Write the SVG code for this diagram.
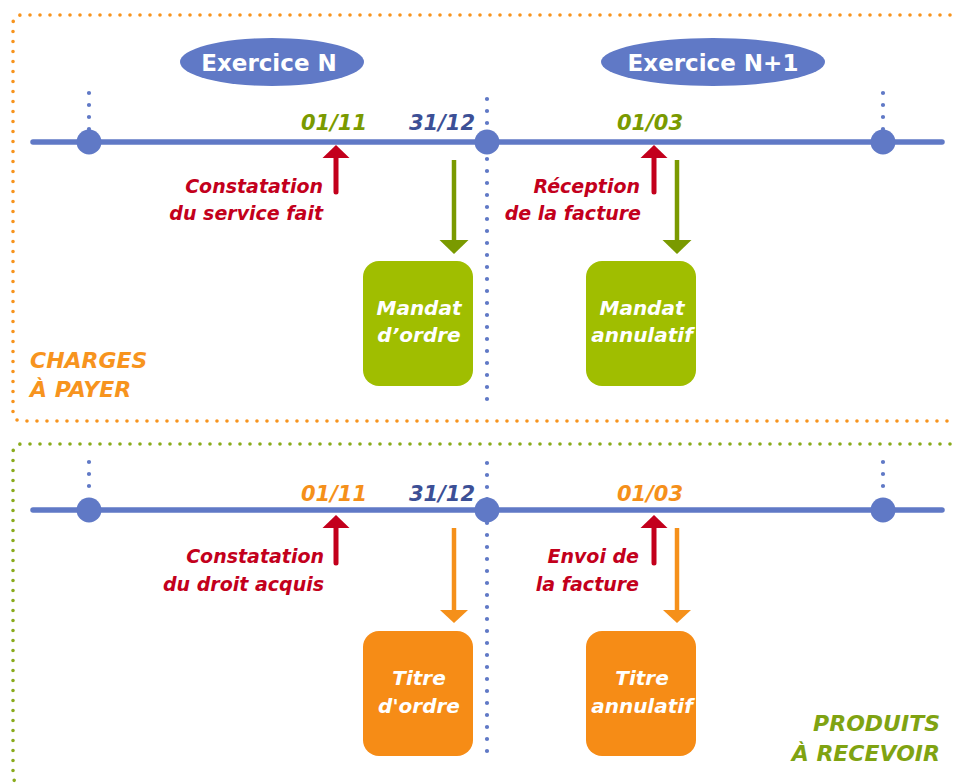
<svg xmlns="http://www.w3.org/2000/svg" width="954" height="783" viewBox="0 0 954 783">
  <style>
    text { font-family: "DejaVu Sans", Verdana, sans-serif; font-weight: bold; }
    .it { font-style: italic; }
    .frame { fill: none; stroke-width: 3.6; stroke-linecap: round; stroke-dasharray: 0 10; }
    .axis { stroke: #6079c6; stroke-width: 5.5; stroke-linecap: round; fill: none; }
    .tick { fill: #6079c6; }
    .dots { stroke: #6079c6; stroke-width: 4.2; stroke-linecap: round; stroke-dasharray: 0 12; fill: none; }
    .year { fill: #6079c6; }
    .year-label { fill: #ffffff; font-size: 23px; text-anchor: middle; }
    .date { font-size: 21px; text-anchor: middle; }
    .event { fill: #c3001c; font-size: 19px; text-anchor: end; }
    .box-label { fill: #ffffff; font-size: 20px; text-anchor: middle; }
    .section { font-size: 22px; }
    .up { stroke: #c3001c; stroke-width: 5; stroke-linecap: round; fill: none; }
    .down-g { stroke: #7a9a00; stroke-width: 4.5; fill: none; }
    .down-o { stroke: #f5901a; stroke-width: 4.5; fill: none; }
  </style>
  <defs>
    <marker id="head-red" markerUnits="userSpaceOnUse" viewBox="0 -14 14 28" refX="0" refY="0" markerWidth="14" markerHeight="28" orient="auto">
      <path d="M0,-13.5 L13,0 L0,13.5 z" fill="#c3001c"/>
    </marker>
    <marker id="head-green" markerUnits="userSpaceOnUse" viewBox="0 -15 15 30" refX="0" refY="0" markerWidth="15" markerHeight="30" orient="auto">
      <path d="M0,-14.5 L14,0 L0,14.5 z" fill="#7a9a00"/>
    </marker>
    <marker id="head-orange" markerUnits="userSpaceOnUse" viewBox="0 -15 15 30" refX="0" refY="0" markerWidth="15" markerHeight="30" orient="auto">
      <path d="M0,-14 L13,0 L0,14 z" fill="#f5901a"/>
    </marker>
  </defs>

  <rect width="954" height="783" fill="#ffffff"/>

  <!-- section frames -->
  <path class="frame" stroke="#f7941e" d="M960,15 H22 Q13,15 13,24 V412 Q13,421 22,421 H960"/>
  <path class="frame" stroke="#8aab1c" d="M960,444 H22 Q13,444 13,453 V775 Q13,784 22,784"/>

  <!-- fiscal year split -->
  <line class="dots" x1="487" y1="99" x2="487" y2="401"/>
  <line class="dots" x1="487" y1="463" x2="487" y2="763"/>

  <!-- year headers -->
  <g id="exercice-n">
    <ellipse class="year" cx="272" cy="62" rx="92" ry="24"/>
    <text class="year-label" x="269" y="71">Exercice N</text>
  </g>
  <g id="exercice-n1">
    <ellipse class="year" cx="713" cy="62" rx="112" ry="24"/>
    <text class="year-label" x="713" y="71">Exercice N+1</text>
  </g>

  <!-- timeline: charges -->
  <g id="timeline-charges">
    <line class="axis" x1="33" y1="142" x2="942" y2="142"/>
    <line class="dots" x1="89" y1="93" x2="89" y2="130"/>
    <line class="dots" x1="883" y1="93" x2="883" y2="130"/>
    <circle class="tick" cx="89" cy="142" r="12.5"/>
    <circle class="tick" cx="487" cy="142" r="12.5"/>
    <circle class="tick" cx="883" cy="142" r="12.5"/>
    <text class="date it" x="334" y="130" fill="#7a9a00">01/11</text>
    <text class="date it" x="442" y="130" fill="#3c5096">31/12</text>
    <text class="date it" x="650" y="130" fill="#7a9a00">01/03</text>
  </g>

  <!-- timeline: produits -->
  <g id="timeline-produits">
    <line class="axis" x1="33" y1="510" x2="942" y2="510"/>
    <line class="dots" x1="89" y1="462" x2="89" y2="498"/>
    <line class="dots" x1="883" y1="462" x2="883" y2="498"/>
    <circle class="tick" cx="89" cy="510" r="12.5"/>
    <circle class="tick" cx="487" cy="510" r="12.5"/>
    <circle class="tick" cx="883" cy="510" r="12.5"/>
    <text class="date it" x="334" y="501" fill="#f5901a">01/11</text>
    <text class="date it" x="442" y="501" fill="#3c5096">31/12</text>
    <text class="date it" x="650" y="501" fill="#f5901a">01/03</text>
  </g>

  <!-- event labels -->
  <g id="service-fait">
    <text class="event it" x="323" y="193">Constatation</text>
    <text class="event it" x="323" y="220">du service fait</text>
  </g>
  <g id="reception-facture">
    <text class="event it" x="640" y="193">Réception</text>
    <text class="event it" x="641" y="220">de la facture</text>
  </g>
  <g id="droit-acquis">
    <text class="event it" x="324" y="563">Constatation</text>
    <text class="event it" x="324" y="591">du droit acquis</text>
  </g>
  <g id="envoi-facture">
    <text class="event it" x="639" y="563">Envoi de</text>
    <text class="event it" x="639" y="591">la facture</text>
  </g>

  <!-- documents -->
  <g id="mandat-ordre">
    <rect x="363" y="261" width="110" height="125" rx="16" fill="#a0be00"/>
    <text class="box-label it" x="419" y="315">Mandat</text>
    <text class="box-label it" x="419" y="342">d’ordre</text>
  </g>
  <g id="mandat-annulatif">
    <rect x="586" y="261" width="110" height="125" rx="16" fill="#a0be00"/>
    <text class="box-label it" x="642" y="315">Mandat</text>
    <text class="box-label it" x="642" y="342">annulatif</text>
  </g>
  <g id="titre-ordre">
    <rect x="363" y="631" width="110" height="125" rx="16" fill="#f68c16"/>
    <text class="box-label it" x="419" y="685">Titre</text>
    <text class="box-label it" x="419" y="713">d'ordre</text>
  </g>
  <g id="titre-annulatif">
    <rect x="586" y="631" width="110" height="125" rx="16" fill="#f68c16"/>
    <text class="box-label it" x="642" y="685">Titre</text>
    <text class="box-label it" x="642" y="713">annulatif</text>
  </g>

  <!-- section titles -->
  <g id="charges-a-payer">
    <text class="section it" x="30" y="368" fill="#f7941e">CHARGES</text>
    <text class="section it" x="30" y="397" fill="#f7941e">À PAYER</text>
  </g>
  <g id="produits-a-recevoir">
    <text class="section it" x="940" y="731" fill="#7fa312" text-anchor="end">PRODUITS</text>
    <text class="section it" x="940" y="761" fill="#7fa312" text-anchor="end">À RECEVOIR</text>
  </g>

  <!-- connectors -->
  <g id="connectors">
    <line class="up" x1="336" y1="192" x2="336" y2="158" marker-end="url(#head-red)"/>
    <line class="up" x1="654" y1="192" x2="654" y2="158" marker-end="url(#head-red)"/>
    <line class="down-g" x1="454" y1="160" x2="454" y2="240" marker-end="url(#head-green)"/>
    <line class="down-g" x1="677" y1="160" x2="677" y2="240" marker-end="url(#head-green)"/>
    <line class="up" x1="336" y1="563" x2="336" y2="528" marker-end="url(#head-red)"/>
    <line class="up" x1="654" y1="563" x2="654" y2="528" marker-end="url(#head-red)"/>
    <line class="down-o" x1="454" y1="528" x2="454" y2="610" marker-end="url(#head-orange)"/>
    <line class="down-o" x1="677" y1="528" x2="677" y2="610" marker-end="url(#head-orange)"/>
  </g>
</svg>
